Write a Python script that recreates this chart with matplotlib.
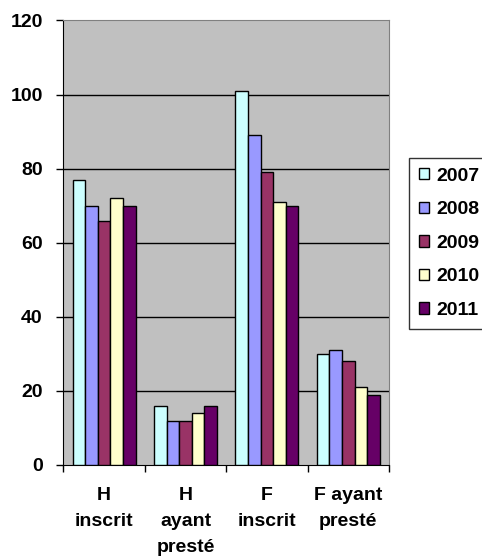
import matplotlib
matplotlib.use("Agg")
import matplotlib.pyplot as plt
import numpy as np
from matplotlib.patches import Patch

plt.rcParams["font.family"] = ["Liberation Sans", "DejaVu Sans"]
plt.rcParams["font.weight"] = "bold"

categories = ["H\ninscrit", "H\nayant\npresté", "F\ninscrit", "F ayant\npresté"]
years = ["2007", "2008", "2009", "2010", "2011"]
values_2007 = [77, 16, 101, 30]
values_2008 = [70, 12, 89, 31]
values_2009 = [66, 12, 79, 28]
values_2010 = [72, 14, 71, 21]
values_2011 = [70, 16, 70, 19]

series = [values_2007, values_2008, values_2009, values_2010, values_2011]
colors = ["#CCFFFF", "#9999FF", "#993366", "#FFFFCC", "#660066"]
fs = 14

fig = plt.figure(figsize=(4.82, 5.58), dpi=100)
ax = fig.add_axes([0.1317, 0.1667, 0.807 - 0.1317, 0.9633 - 0.1667])
ax.set_facecolor("#C0C0C0")

x = np.arange(len(categories))
width = 0.155
for k, (vals, color) in enumerate(zip(series, colors)):
    ax.bar(x + (k - 2) * width, vals, width, color=color,
           edgecolor="black", linewidth=1, zorder=3)

ax.set_xlim(-0.5, len(categories) - 0.5)
ax.set_ylim(0, 120)
ax.set_yticks(range(0, 121, 20))
for y in range(20, 120, 20):
    ax.axhline(y, color="black", linewidth=1, zorder=1)

# category labels sit between the boundary ticks
ax.set_xticks(np.arange(-0.5, len(categories), 1.0))
ax.set_xticklabels([])
ax.set_xticks(x, minor=True)
ax.set_xticklabels(categories, minor=True, fontsize=fs, fontweight="bold",
                   linespacing=1.7)
ax.tick_params(axis="x", which="minor", length=0, pad=16)
ax.tick_params(axis="x", which="major", length=5, width=1, color="black")
ax.tick_params(axis="y", length=5, width=1, pad=10, labelsize=fs)
for lbl in ax.get_yticklabels():
    lbl.set_fontweight("bold")

ax.spines["left"].set_color("black")
ax.spines["bottom"].set_color("black")
ax.spines["top"].set_color("#808080")
ax.spines["right"].set_color("#808080")

handles = [Patch(facecolor=c, edgecolor="black", linewidth=1) for c in colors]
leg = fig.legend(handles, years, loc="upper left",
                 bbox_to_anchor=(409 / 482, 1 - 158 / 558),
                 frameon=True, fancybox=False, fontsize=fs,
                 handlelength=0.52, handleheight=0.52, handletextpad=0.41,
                 labelspacing=0.85, borderpad=0.5, borderaxespad=0)
leg.get_frame().set_edgecolor("black")
leg.get_frame().set_linewidth(1)
for t in leg.get_texts():
    t.set_fontweight("bold")

fig.savefig("out.png", dpi=100)
